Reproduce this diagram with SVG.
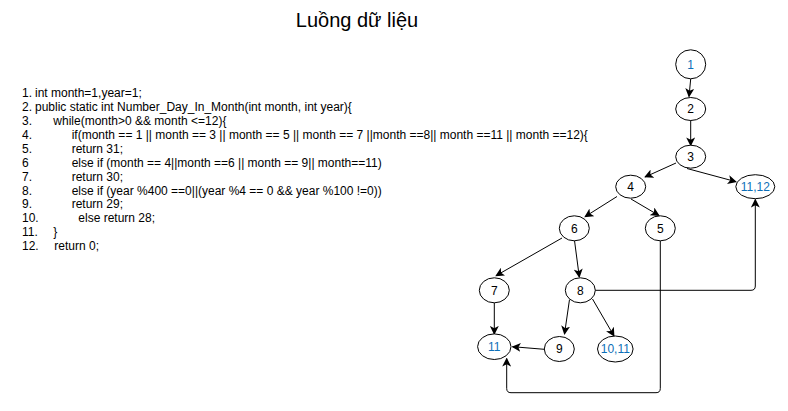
<svg xmlns="http://www.w3.org/2000/svg" width="788" height="411" viewBox="0 0 788 411">
<defs>
<style>
text{font-family:"Liberation Sans",Arial,sans-serif;fill:#000}
.code{font-size:12px}
.title{font-size:20px}
.nl{font-size:12px;text-anchor:middle}
.blue{fill:#0d6fb8}
ellipse{fill:#fff;stroke:#000;stroke-width:1}
.edge{fill:none;stroke:#000;stroke-width:1;marker-end:url(#arr)}
</style>
<marker id="arr" viewBox="0 0 10 10" refX="9" refY="5" markerWidth="9" markerHeight="9" markerUnits="userSpaceOnUse" orient="auto">
<path d="M0,0 L10,5 L0,10 L2.5,5 z" fill="#000"/>
</marker>
</defs>
<rect width="788" height="411" fill="#fff"/>
<text class="title" x="357" y="27" text-anchor="middle">Luồng dữ liệu</text>
<g id="code" class="code">
<text x="22" y="97">1.</text><text x="35" y="97">int month=1,year=1;</text>
<text x="22" y="111">2.</text><text x="35" y="111">public static int Number_Day_In_Month(int month, int year){</text>
<text x="22" y="125">3.</text><text x="53.3" y="125">while(month&gt;0 &amp;&amp; month &lt;=12){</text>
<text x="22" y="139">4.</text><text x="71.7" y="139">if(month == 1 || month == 3 || month == 5 || month == 7 ||month ==8|| month ==11 || month ==12){</text>
<text x="22" y="153">5.</text><text x="71.7" y="153">return 31;</text>
<text x="22" y="166.5">6</text><text x="71.7" y="166.5">else if (month == 4||month ==6 || month == 9|| month==11)</text>
<text x="22" y="180.5">7.</text><text x="71.7" y="180.5">return 30;</text>
<text x="22" y="194.5">8.</text><text x="71.7" y="194.5">else if (year %400 ==0||(year %4 == 0 &amp;&amp; year %100 !=0))</text>
<text x="22" y="208">9.</text><text x="71.7" y="208">return 29;</text>
<text x="22" y="222">10.</text><text x="78.3" y="222">else return 28;</text>
<text x="22" y="236">11.</text><text x="53.3" y="236">}</text>
<text x="22" y="250">12.</text><text x="54.3" y="250">return 0;</text>
</g>
<g id="connectors">
<path class="edge" d="M690.7,79 L689,96.5"/>
<path class="edge" d="M690.7,120 L690.7,145.5"/>
<path class="edge" d="M676,163 L645,177"/>
<path class="edge" d="M687,168.5 L736,181.7"/>
<path class="edge" d="M617,196.5 L585,216.7"/>
<path class="edge" d="M631,199 L659,215.5"/>
<path class="edge" d="M562,238 L496,275.7"/>
<path class="edge" d="M574.5,240.5 L579.3,277"/>
<path class="edge" d="M494.3,303 L494.3,334"/>
<path class="edge" d="M569.5,299.5 L564.5,334"/>
<path class="edge" d="M592.5,299 L614,336"/>
<path class="edge" d="M544.3,349.3 L512.5,346.7"/>
<path class="edge" d="M595,290.3 H751 Q755.3,290.3 755.3,286 V199.5"/>
<path class="edge" d="M660.3,241 V388.5 Q660.3,392.7 656,392.7 H511 Q506.7,392.7 506.7,388.5 V358.5"/>
</g>
<g id="n1"><ellipse cx="690.7" cy="64.3" rx="15" ry="14.5"/><text class="nl blue" x="690.7" y="68.5">1</text></g>
<g id="n2"><ellipse cx="690.7" cy="109" rx="15" ry="11.5"/><text class="nl" x="690.7" y="113.2">2</text></g>
<g id="n3"><ellipse cx="690.7" cy="156.7" rx="15" ry="11.5"/><text class="nl" x="690.7" y="160.9">3</text></g>
<g id="n4"><ellipse cx="630.7" cy="186.7" rx="15" ry="11.5"/><text class="nl" x="630.7" y="190.9">4</text></g>
<g id="n1112"><ellipse cx="755.3" cy="186.7" rx="19.5" ry="12"/><text class="nl blue" x="755.3" y="190.9">11,12</text></g>
<g id="n6"><ellipse cx="574.3" cy="228.3" rx="15" ry="12.5"/><text class="nl" x="574.3" y="232.5">6</text></g>
<g id="n5"><ellipse cx="660.3" cy="228.3" rx="15" ry="12.5"/><text class="nl" x="660.3" y="232.5">5</text></g>
<g id="n7"><ellipse cx="494.3" cy="290.3" rx="15" ry="12.5"/><text class="nl" x="494.3" y="294.5">7</text></g>
<g id="n8"><ellipse cx="580.3" cy="290.3" rx="15" ry="12.5"/><text class="nl" x="580.3" y="294.5">8</text></g>
<g id="n11"><ellipse cx="494.3" cy="346.7" rx="16.7" ry="12.8"/><text class="nl blue" x="494.3" y="350.9">11</text></g>
<g id="n9"><ellipse cx="559.3" cy="349" rx="15" ry="12.5"/><text class="nl" x="559.3" y="353.2">9</text></g>
<g id="n1011"><ellipse cx="615.3" cy="349" rx="17.8" ry="13"/><text class="nl blue" x="615.3" y="353.2">10,11</text></g>
</svg>
